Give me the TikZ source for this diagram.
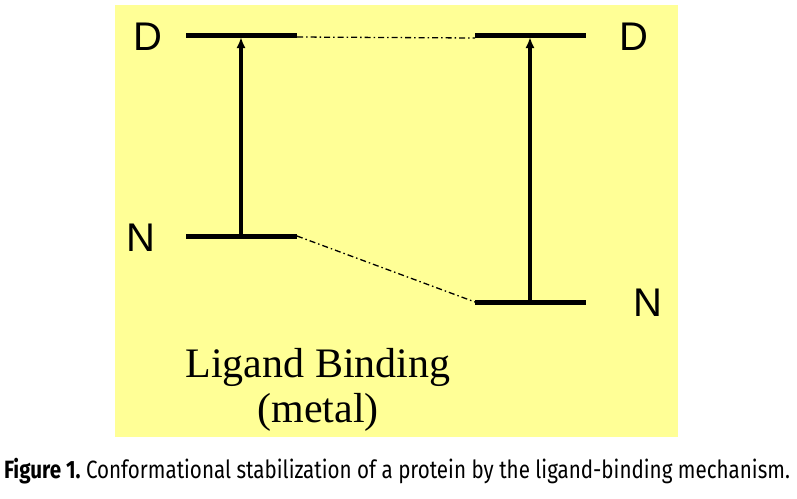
\documentclass[tikz,border=0pt]{standalone}
\usepackage{fontspec}
\setmainfont{Liberation Serif}
\newfontfamily\labfont{Liberation Sans}
\newfontfamily\capfont{Fira Sans}
\usetikzlibrary{arrows.meta}
\definecolor{bgyellow}{RGB}{255,255,150}
\tikzset{
  level/.style={line width=5pt},
  trans/.style={line width=3.2pt,-{Latex[length=11pt,width=9pt]},shorten >=2pt},
  link/.style={line width=1.3pt,dash pattern=on 6pt off 3pt on 1.5pt off 3pt},
  statelab/.style={font=\labfont\fontsize{40}{40}\selectfont,inner sep=0pt},
  biglab/.style={font=\fontsize{42}{42}\selectfont,inner sep=0pt,anchor=base}
}
\begin{document}
\begin{tikzpicture}[x=1pt,y=-1pt]
\useasboundingbox (0,0) rectangle (797,498);
\fill[bgyellow] (115,5) rectangle (678,437);
% level endpoints
\coordinate (DLa) at (186,35);  \coordinate (DLb) at (297,35);
\coordinate (NLa) at (186,236); \coordinate (NLb) at (297,236);
\coordinate (DRa) at (475,35);  \coordinate (DRb) at (586,35);
\coordinate (NRa) at (475,302); \coordinate (NRb) at (586,302);
\coordinate (NLc) at (241,236); \coordinate (DLc) at (241,35);
\coordinate (NRc) at (530,302); \coordinate (DRc) at (530,35);
\draw[level] (DLa) -- (DLb);
\draw[level] (NLa) -- (NLb);
\draw[level] (DRa) -- (DRb);
\draw[level] (NRa) -- (NRb);
\draw[trans] (NLc) -- (DLc);
\draw[trans] (NRc) -- (DRc);
\coordinate (t1) at (297,37);
\coordinate (t2) at (475,38);
\draw[link] (t1) -- (t2);
\draw[link] (NLb) -- (NRa);
\node[statelab] (dl) at (148,37) {D};
\node[statelab] (nl) at (141,238) {N};
\node[statelab] (dr) at (634,37) {D};
\node[statelab] (nr) at (648,303) {N};
\node[biglab] (lb) at (318,377) {Ligand Binding};
\node[biglab] (mt) at (318,422) {(metal)};
\node[inner sep=0pt,anchor=base] (cap) at (397,478) {\resizebox{786pt}{\height}{\capfont\fontsize{25}{25}\selectfont\textbf{Figure 1.}\ Conformational stabilization of a protein by the ligand-binding mechanism.}};
\end{tikzpicture}
\end{document}
